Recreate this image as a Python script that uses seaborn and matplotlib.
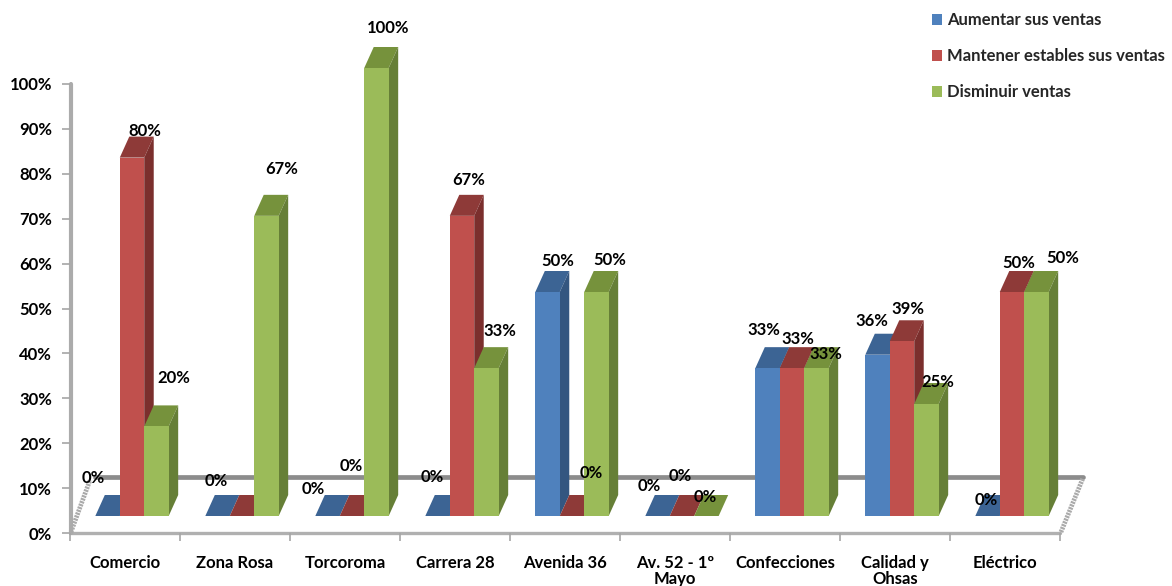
import matplotlib
matplotlib.use("Agg")
import matplotlib.pyplot as plt
from matplotlib.lines import Line2D
from matplotlib.patches import Polygon, Patch
import pandas as pd
import seaborn as sns

categories = ["Comercio", "Zona Rosa", "Torcoroma", "Carrera 28", "Avenida 36",
              "Av. 52 - 1º\nMayo", "Confecciones", "Calidad y\nOhsas", "Eléctrico"]
series_names = ["Aumentar sus ventas", "Mantener estables sus ventas", "Disminuir ventas"]
aumentar = [0, 0, 0, 0, 50, 0, 33, 36, 0]
mantener = [80, 0, 0, 67, 0, 0, 33, 39, 50]
disminuir = [20, 67, 100, 33, 50, 0, 33, 25, 50]
y_ticks = list(range(0, 101, 10))

# styling -------------------------------------------------------------------
front_colors = ["#4F81BD", "#C0504D", "#9BBB59"]
top_colors = ["#3C6494", "#8E3A38", "#76923C"]
side_colors = ["#345680", "#7B2F2D", "#667F37"]
# pixel nudges of each value label from its bar (right, up); None = hidden
label_nudges = [
    [(-14, 38), (13, 27), (17, 48)],
    [(-1, 35), None, (15, 47)],
    [(-14, 27), (-1, 50), (12, 40)],
    [(-5, 39), (7, 36), (13, 37)],
    [(10, 31), (19, 43), (13, 32)],
    [(-8, 30), (-2, 40), (-1, 19)],
    [(-4, 38), (6, 29), (9, 14)],
    [(-6, 34), (6, 32), (11, 22)],
    [(-1, 16), (7, 29), (26, 34)],
]

W, H = 1172, 586
sns.set_theme(style="white")
plt.rcParams["font.family"] = ["Lato", "DejaVu Sans"]
plt.rcParams["font.weight"] = "bold"
FS = 12


def fx(px):
    return px / W


def fy(py):
    return 1 - py / H


def axes_box(x0, x1, ytop, ybot):
    return [fx(x0), fy(ybot), (x1 - x0) / W, (ybot - ytop) / H]


fig = plt.figure(figsize=(W / 100, H / 100), dpi=100, facecolor="white")

# frame axes: the axis scales and tick labels
ax = fig.add_axes(axes_box(70, 1060, 84, 533), zorder=1)
ax.set_xlim(-0.5, 8.5)
ax.set_ylim(0, 100)
ax.patch.set_visible(False)
for name, sp in ax.spines.items():
    sp.set_visible(False)
ax.set_yticks(y_ticks)
ax.set_yticklabels([f"{v}%" for v in y_ticks], fontsize=FS, fontweight="bold", color="black")
ax.set_xticks(range(len(categories)))
ax.set_xticklabels(categories, fontsize=FS, fontweight="bold", color="black", linespacing=1.0)
ax.set_xticks([i - 0.5 for i in range(len(categories) + 1)], minor=True)
ax.tick_params(axis="x", which="major", length=0, pad=15.5)
ax.tick_params(axis="x", which="minor", length=6, width=1.2, color="#A6A6A6", bottom=True)
ax.tick_params(axis="y", which="major", length=6, width=1.2, color="#A6A6A6", pad=7, left=True)

# fake 3D floor
fig.add_artist(Line2D([fx(95), fx(1083)], [fy(477), fy(477)], color="#8C8C8C", lw=3.4, zorder=0.5))
fig.add_artist(Line2D([fx(70), fx(1060)], [fy(533), fy(533)], color="#B0B0B0", lw=2.4, zorder=0.5))
fig.add_artist(Line2D([fx(71), fx(71)], [fy(84), fy(533)], color="#ABABAB", lw=3.0, zorder=0.5))
for x0, y0, x1, y1 in [(71, 532, 90, 480), (1061, 532, 1083, 478)]:
    fig.add_artist(Line2D([fx(x0), fx(x1)], [fy(y0), fy(y1)], color="#AAAAAA", lw=3.4,
                          ls=(0, (0.45, 0.2)), zorder=0.5))

# bar axes: front plane of the 3D bars
bar_ax = fig.add_axes(axes_box(77, 1067, 68, 516), zorder=2)
bar_ax.patch.set_visible(False)
df = pd.DataFrame({
    "categoria": categories * 3,
    "serie": sum([[n] * len(categories) for n in series_names], []),
    "valor": aumentar + mantener + disminuir,
})
sns.barplot(data=df, x="categoria", y="valor", hue="serie", order=categories,
            hue_order=series_names, palette=front_colors, width=0.667, saturation=1,
            legend=False, ax=bar_ax, linewidth=0, errorbar=None)
bar_ax.set_xlim(-0.5, 8.5)
bar_ax.set_ylim(0, 100)
bar_ax.axis("off")

DX = 9.5 / 110           # depth of a bar, x data units
DY = 21 / 448 * 100      # depth of a bar, y data units
for s, container in enumerate(bar_ax.containers):
    for i, bar in enumerate(container.patches):
        left, w, h = bar.get_x(), bar.get_width(), bar.get_height()
        right = left + w
        base = 10 + i * 10 + s * 2
        bar.set_zorder(base + 1)
        bar.set_clip_on(False)
        bar_ax.add_patch(Polygon([(left, h), (right, h), (right + DX, h + DY), (left + DX, h + DY)],
                                 closed=True, fc=top_colors[s], ec="none", zorder=base, clip_on=False))
        if h > 0:
            bar_ax.add_patch(Polygon([(right, 0), (right + DX, DY), (right + DX, h + DY), (right, h)],
                                     closed=True, fc=side_colors[s], ec="none", zorder=base, clip_on=False))
        nudge = label_nudges[i][s]
        if nudge is not None:
            bar_ax.annotate(f"{h:.0f}%", xy=(left + w / 2, h), xytext=(nudge[0] * 0.72, nudge[1] * 0.72),
                            textcoords="offset points", ha="center", va="center", fontsize=FS,
                            fontweight="bold", color="black", zorder=500, annotation_clip=False)

handles = [Patch(fc=c, ec="none", label=n) for c, n in zip(front_colors, series_names)]
fig.legend(handles=handles, loc="upper left", bbox_to_anchor=(fx(932), fy(12)),
           bbox_transform=fig.transFigure, frameon=False, ncols=1,
           prop={"size": FS, "weight": "bold"}, labelspacing=1.2, handlelength=0.62, handleheight=0.62,
           handletextpad=0.3, borderpad=0, borderaxespad=0)

fig.savefig("out.png", dpi=100, facecolor="white")
